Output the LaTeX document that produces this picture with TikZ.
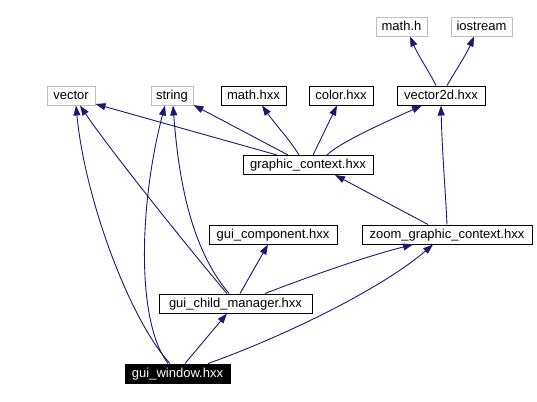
\documentclass[tikz,border=0pt]{standalone}
\usepackage{fontspec}
\setmainfont{Liberation Sans}
\usetikzlibrary{arrows.meta}
\definecolor{edgeblue}{HTML}{191970}
\definecolor{extgray}{HTML}{BFBFBF}
\tikzset{
  box/.style={draw=black, line width=1bp, rectangle, inner sep=0pt, minimum height=19bp,
    font=\fontsize{13bp}{15bp}\selectfont, text height=9.5bp, text depth=2.5bp},
  extbox/.style={box, draw=extgray},
  curbox/.style={box, fill=black, text=white},
  edge/.style={draw=edgeblue, line width=0.9bp, -{Triangle[length=10bp,width=7bp]}}
}
\begin{document}
\begin{tikzpicture}[x=1bp,y=-1bp]
\useasboundingbox (0,0) rectangle (537,401);
% nodes
\node[extbox, minimum width=51bp] (mathh) at (401.5,26.5) {math.h};
\node[extbox, minimum width=61bp] (iostream) at (481.5,26.5) {iostream};
\node[extbox, minimum width=48bp] (vector) at (71,95.5) {vector};
\node[extbox, minimum width=42bp] (string) at (172,95.5) {string};
\node[box, minimum width=65bp] (mathhxx) at (253.5,95.5) {math.hxx};
\node[box, minimum width=64bp] (color) at (341,95.5) {color.hxx};
\node[box, minimum width=88bp] (v2d) at (441,95.5) {vector2d.hxx};
\node[box, minimum width=130bp] (gc) at (308,165) {graphic\_context.hxx};
\node[box, minimum width=128bp] (gcomp) at (273,234.5) {gui\_component.hxx};
\node[box, minimum width=170bp] (zgc) at (447,234.5) {zoom\_graphic\_context.hxx};
\node[box, minimum width=153bp] (gcm) at (235.5,303.5) {gui\_child\_manager.hxx};
\node[curbox, minimum width=105bp] (gw) at (177.5,373.5) {gui\_window.hxx};
% edges
\draw[edge] ([xshift=-5bp]v2d.north) .. controls (431,75) and (418,55) .. ([xshift=8.5bp]mathh.south);
\draw[edge] ([xshift=6bp]v2d.north) .. controls (453,75) and (466,55) .. ([xshift=-7.5bp]iostream.south);
\draw[edge] ([xshift=-31bp]gc.north) -- ([yshift=1.5bp]vector.south east);
\draw[edge] ([xshift=-20bp]gc.north) -- ([xshift=0bp,yshift=0.5bp]string.south east);
\draw[edge] ([xshift=-9bp]gc.north) .. controls (290,140) and (275,124) .. ([xshift=8.5bp]mathhxx.south);
\draw[edge] ([xshift=5bp]gc.north) -- ([xshift=-4bp]color.south);
\draw[edge] ([xshift=19bp]gc.north) .. controls (340,142) and (390,120) .. ([xshift=-19bp]v2d.south);
\draw[edge] ([xshift=-19bp]zgc.north) -- ([xshift=27bp]gc.south);
\draw[edge] (zgc.north) .. controls (446,200) and (442,150) .. (v2d.south);
\draw[edge] ([xshift=-8.5bp]gcm.north) .. controls (190,250) and (110,150) .. ([xshift=9bp]vector.south);
\draw[edge] ([xshift=-6.5bp]gcm.north) .. controls (188,245) and (178,170) .. ([xshift=1bp]string.south);
\draw[edge] ([xshift=4.5bp]gcm.north) -- ([xshift=-5bp]gcomp.south);
\draw[edge] ([xshift=29.5bp]gcm.north) .. controls (300,280) and (360,258) .. ([xshift=-34bp]zgc.south);
\draw[edge] ([xshift=-7.5bp]gw.north) .. controls (130,320) and (85,200) .. ([xshift=5bp]vector.south);
\draw[edge] ([xshift=-9.5bp]gw.north) .. controls (135,320) and (140,200) .. ([xshift=-7bp]string.south);
\draw[edge] ([xshift=7.5bp]gw.north) -- ([xshift=-8.5bp]gcm.south);
\draw[edge] ([xshift=30.5bp]gw.north) .. controls (280,338) and (380,290) .. ([xshift=-14bp]zgc.south);
\end{tikzpicture}
\end{document}
